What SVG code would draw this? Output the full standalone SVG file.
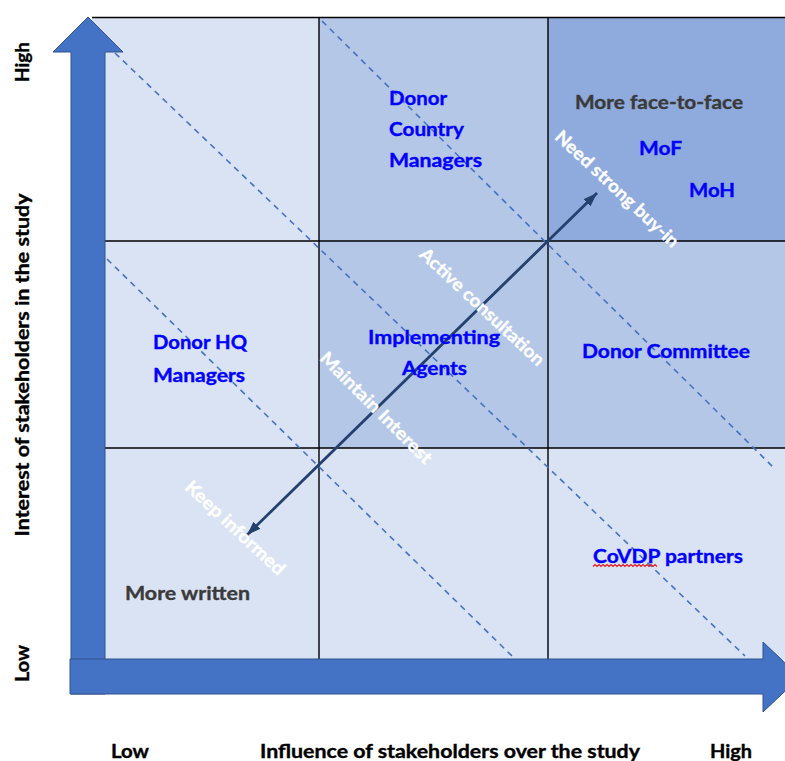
<svg xmlns="http://www.w3.org/2000/svg" width="785" height="761" viewBox="0 0 785 761">
  <style>
    .t { font-family: Lato, "Liberation Sans", Arial, sans-serif; font-weight: bold; font-size: 18px; stroke-width: 0.35px; }
    .blue { fill: #0000FF; stroke: #0000FF; }
    .gray { fill: #3A3A3A; stroke: #3A3A3A; }
    .white { fill: #FFFFFF; stroke: #FFFFFF; }
    .axis { fill: #000000; stroke: #000000; }
    .light { fill: #DAE3F3; }
    .mid { fill: #B4C7E7; }
    .dark { fill: #8FAADC; }
    .grid { stroke: #000000; stroke-width: 1.4; fill: none; }
    .zone { stroke: #4472C4; stroke-width: 1.6; stroke-dasharray: 6 5; fill: none; }
    .shaft { fill: #4472C4; stroke: #2F528F; stroke-width: 1; }
    .flow { stroke: #23406E; stroke-width: 2.8; fill: none; marker-start: url(#head); marker-end: url(#head); }
  </style>
  <defs>
    <marker id="head" viewBox="0 0 14 10" refX="14" refY="5" markerWidth="14" markerHeight="10" markerUnits="userSpaceOnUse" orient="auto-start-reverse">
      <path d="M0,0 L14,5 L0,10 z" fill="#23406E"/>
    </marker>
  </defs>

  <rect width="785" height="761" fill="#FFFFFF"/>

  <!-- 3x3 grid of cells -->
  <g id="cells">
    <rect id="cell-top-left" class="light" x="92" y="17" width="227" height="224"/>
    <rect id="cell-top-mid" class="mid" x="319" y="17" width="229" height="224"/>
    <rect id="cell-top-right" class="dark" x="548" y="17" width="237" height="224"/>
    <rect id="cell-mid-left" class="light" x="92" y="241" width="227" height="207"/>
    <rect id="cell-mid-mid" class="mid" x="319" y="241" width="229" height="207"/>
    <rect id="cell-mid-right" class="mid" x="548" y="241" width="237" height="207"/>
    <rect id="cell-bot-left" class="light" x="92" y="448" width="227" height="212"/>
    <rect id="cell-bot-mid" class="light" x="319" y="448" width="229" height="212"/>
    <rect id="cell-bot-right" class="light" x="548" y="448" width="237" height="212"/>
  </g>

  <g id="grid-lines">
    <path class="grid" d="M92,17.5 H785 M105,241 H785 M105,448 H785 M319,17 V660 M548,17 V660"/>
  </g>

  <!-- connectors: engagement bands and the influence/interest diagonal -->
  <g id="connectors">
    <path class="zone" d="M115,53 L745,656"/>
    <path class="zone" d="M322,21 L773,467"/>
    <path class="zone" d="M107,259 L512,656"/>
    <path class="flow" d="M247,535 L597,193"/>
  </g>

  <!-- axis arrows -->
  <g id="axis-interest">
    <polygon class="shaft" points="88,17 123,52 105,52 105,694 71,694 71,52 53,52"/>
  </g>
  <g id="axis-influence">
    <polygon class="shaft" points="70,659 763,659 763,642 800,677 763,712 763,694 70,694"/>
  </g>

  <!-- axis captions -->
  <g id="axis-labels" class="t axis">
    <text transform="translate(29,62) rotate(-90)" text-anchor="middle" textLength="40" lengthAdjust="spacingAndGlyphs">High</text>
    <text transform="translate(29,365) rotate(-90)" text-anchor="middle" textLength="343" lengthAdjust="spacingAndGlyphs">Interest of stakeholders in the study</text>
    <text transform="translate(29,663.5) rotate(-90)" text-anchor="middle" textLength="37" lengthAdjust="spacingAndGlyphs">Low</text>
    <text x="111" y="758" textLength="38" lengthAdjust="spacingAndGlyphs">Low</text>
    <text x="260" y="758" textLength="380" lengthAdjust="spacingAndGlyphs">Influence of stakeholders over the study</text>
    <text x="710" y="758" textLength="42" lengthAdjust="spacingAndGlyphs">High</text>
  </g>

  <!-- stakeholders -->
  <g id="donor-country-managers" class="t blue">
    <text x="389" y="105" textLength="58" lengthAdjust="spacingAndGlyphs">Donor</text>
    <text x="389" y="136" textLength="75" lengthAdjust="spacingAndGlyphs">Country</text>
    <text x="389" y="167" textLength="93" lengthAdjust="spacingAndGlyphs">Managers</text>
  </g>
  <g id="more-face-to-face" class="t gray">
    <text x="575" y="109" textLength="168" lengthAdjust="spacingAndGlyphs">More face-to-face</text>
  </g>
  <g id="mof" class="t blue">
    <text x="639" y="155" textLength="43" lengthAdjust="spacingAndGlyphs">MoF</text>
  </g>
  <g id="moh" class="t blue">
    <text x="689" y="197" textLength="46" lengthAdjust="spacingAndGlyphs">MoH</text>
  </g>
  <g id="implementing-agents" class="t blue">
    <text x="368" y="344" textLength="132" lengthAdjust="spacingAndGlyphs">Implementing</text>
    <text x="402" y="375" textLength="65" lengthAdjust="spacingAndGlyphs">Agents</text>
  </g>
  <g id="donor-hq-managers" class="t blue">
    <text x="153" y="349" textLength="94" lengthAdjust="spacingAndGlyphs">Donor HQ</text>
    <text x="153" y="382" textLength="92" lengthAdjust="spacingAndGlyphs">Managers</text>
  </g>
  <g id="donor-committee" class="t blue">
    <text x="582" y="358" textLength="168" lengthAdjust="spacingAndGlyphs">Donor Committee</text>
  </g>
  <g id="covdp-partners">
    <text class="t blue" x="593" y="563" textLength="150" lengthAdjust="spacingAndGlyphs">CoVDP partners</text>
    <path d="M593,566.5 l2,-2 l2,2 l2,-2 l2,2 l2,-2 l2,2 l2,-2 l2,2 l2,-2 l2,2 l2,-2 l2,2 l2,-2 l2,2 l2,-2 l2,2 l2,-2 l2,2 l2,-2 l2,2 l2,-2 l2,2 l2,-2 l2,2 l2,-2 l2,2 l2,-2 l2,2 l2,-2 l2,2 l2,-2 l2,2" fill="none" stroke="#E01818" stroke-width="1.2"/>
  </g>
  <g id="more-written" class="t gray">
    <text x="125" y="600" textLength="125" lengthAdjust="spacingAndGlyphs">More written</text>
  </g>

  <!-- engagement band captions -->
  <g id="need-strong-buy-in" class="t white">
    <text transform="translate(617,189) rotate(43)" y="6" text-anchor="middle" textLength="162" lengthAdjust="spacingAndGlyphs">Need strong buy-in</text>
  </g>
  <g id="active-consultation" class="t white">
    <text transform="translate(482,307) rotate(43)" y="6" text-anchor="middle" textLength="163" lengthAdjust="spacingAndGlyphs">Active consultation</text>
  </g>
  <g id="maintain-interest" class="t white">
    <text transform="translate(376,408) rotate(45)" y="6" text-anchor="middle" textLength="150" lengthAdjust="spacingAndGlyphs">Maintain Interest</text>
  </g>
  <g id="keep-informed" class="t white">
    <text transform="translate(235,528) rotate(43)" y="6" text-anchor="middle" textLength="129" lengthAdjust="spacingAndGlyphs">Keep informed</text>
  </g>
</svg>
